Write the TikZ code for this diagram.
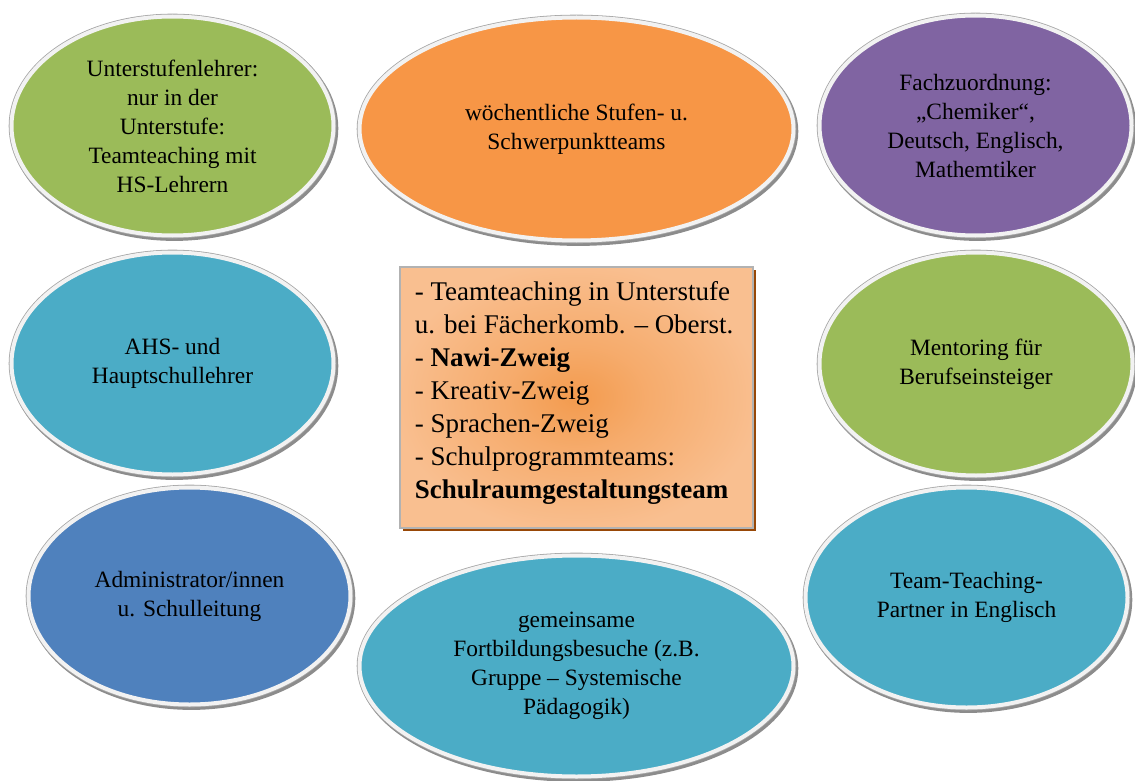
\documentclass[tikz,border=0pt]{standalone}
\usepackage{fontspec}
\setmainfont{Liberation Serif}
\usetikzlibrary{shapes.geometric}

\definecolor{leafgreen}{HTML}{9BBB59}
\definecolor{tangerine}{HTML}{F79646}
\definecolor{plum}{HTML}{8064A2}
\definecolor{lagoon}{HTML}{4BACC6}
\definecolor{steel}{HTML}{4F81BD}
\definecolor{rimwhite}{HTML}{F2F2F2}
\definecolor{boxcore}{HTML}{F39B4E}
\definecolor{boxedge}{HTML}{F9BF90}
\definecolor{boxshadow}{HTML}{984807}

\pgfdeclareradialshading{boxglow}{\pgfpoint{0bp}{0bp}}{color(0bp)=(boxcore); color(10bp)=(boxcore!55!boxedge); color(26bp)=(boxedge); color(50bp)=(boxedge)}

\begin{document}
\begin{tikzpicture}[x=0.5pt,y=-0.5pt,
  bubble/.style={ellipse, inner sep=0pt, align=center,
    font=\fontsize{11.7}{14.5}\selectfont,
    draw=rimwhite, line width=2pt,
    preaction={draw=black!45, line width=3pt, transform canvas={xshift=0.9pt,yshift=-1.2pt}},
    preaction={draw=gray!70, line width=2.8pt}}]
\useasboundingbox (0,0) rectangle (1135,781);
\clip (0,0) rectangle (1135,781);

\node[bubble, fill=leafgreen, minimum width=161pt, minimum height=109.5pt] (e1) at (172.5,126) {Unterstufenlehrer:\\ nur in der\\ Unterstufe:\\ Teamteaching mit\\ HS-Lehrern};
\node[bubble, fill=tangerine, minimum width=217pt, minimum height=111.5pt] (e2) at (576.5,129) {wöchentliche Stufen- u.\\ Schwerpunktteams};
\node[bubble, fill=plum, minimum width=156pt, minimum height=110pt] (e3) at (975.5,125.5) {Fachzuordnung:\\ „Chemiker“,\\ Deutsch, Englisch,\\ Mathemtiker};
\node[bubble, fill=lagoon, minimum width=161pt, minimum height=111pt] (e4) at (172.5,363.5) {AHS- und\\ Hauptschullehrer};
\node[bubble, fill=leafgreen, minimum width=156.5pt, minimum height=111.5pt] (e5) at (976,364) {Mentoring für\\ Berufseinsteiger};
\node[bubble, fill=steel, minimum width=161pt, minimum height=108.5pt] (e6) at (189.5,596) {Administrator/innen\\ u. Schulleitung};
\node[bubble, fill=lagoon, minimum width=217pt, minimum height=110.5pt] (e7) at (576.5,666) {gemeinsame\\ Fortbildungsbesuche (z.B.\\ Gruppe – Systemische\\ Pädagogik)};
\node[bubble, fill=lagoon, minimum width=161pt, minimum height=110pt] (e8) at (966.5,597.5) {Team-Teaching-\\ Partner in Englisch};

\node[draw=gray!60, line width=0.6pt, shading=boxglow, minimum width=176.5pt, minimum height=130.5pt,
  inner sep=0pt, preaction={fill=boxshadow, transform canvas={xshift=1.5pt,yshift=-1.5pt}}] (box) at (576.5,397.5) {};
\node[anchor=north west, align=left, inner sep=0pt, font=\fontsize{13.5}{16.5}\selectfont] (boxtext) at ([shift={(15,14.5)}]box.north west)
  {- Teamteaching in Unterstufe\\ u. bei Fächerkomb. – Oberst.\\ - \textbf{Nawi-Zweig}\\ - Kreativ-Zweig\\ - Sprachen-Zweig\\ - Schulprogrammteams:\\ \textbf{Schulraumgestaltungsteam}};
\end{tikzpicture}
\end{document}
